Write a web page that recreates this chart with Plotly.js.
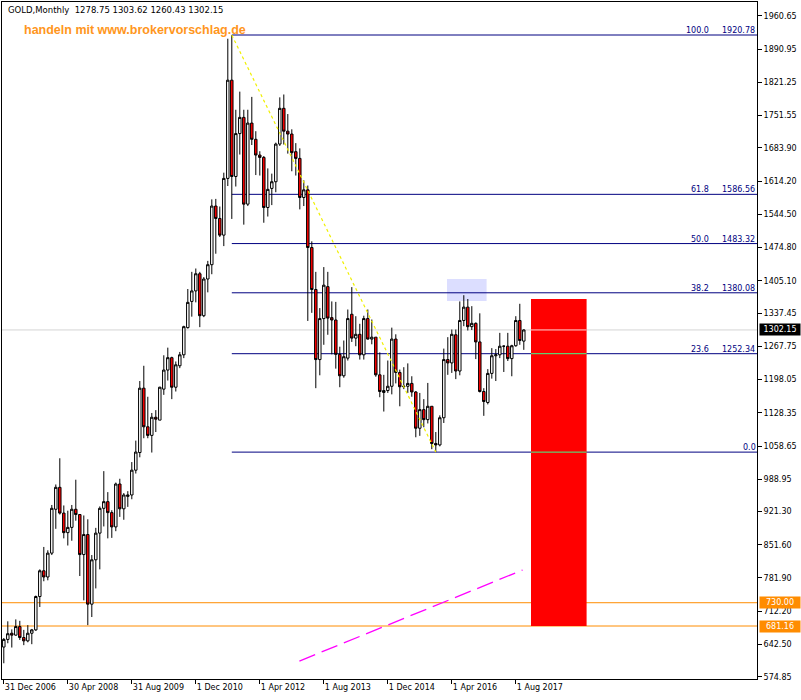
<!DOCTYPE html>
<html>
<head>
<meta charset="utf-8">
<script src="https://cdn.plot.ly/plotly-3.0.1.min.js"></script>
<style>html,body{margin:0;padding:0;background:#fff;}#chart{width:801px;height:700px;}</style>
</head>
<body>
<div id="chart"></div>
<script>
// ---- Data (monthly bars, index 0 = bar labelled "31 Dec 2006") ----
var barOpen = [637,653,666,662,680,657,650,666,673,743,797,784,
  834,926,972,918,877,888,926,915,831,873,727,820,
  876,928,942,919,889,979,927,953,956,1008,1045,1180,
  1099,1081,1119,1113,1178,1218,1244,1182,1227,1250,1307,1362,1384,
  1420,1332,1409,1439,1562,1536,1501,1620,1826,1624,1714,1748,
  1566,1736,1702,1669,1664,1559,1599,1613,1692,1767,1719,1713,
  1676,1662,1580,1596,1475,1387,1240,1326,1393,1328,1323,1251,
  1206,1243,1335,1285,1293,1250,1326,1283,1287,1208,1171,1175,
  1184,1283,1213,1183,1184,1190,1172,1096,1135,1114,1142,1064,
  1061,1118,1240,1233,1292,1216,1322,1350,1309,1316,1277,1173,
  1150,1211,1248,1250,1268,1268,1242,1269,1322,1278.75];
var barHigh = [656,691,674,695,692,673,683,675,745,800,847,840,
  935,978,1033,934,923,935,988,916,913,905,830,887,
  932,1006,962,924,982,990,960,964,1025,1070,1195,1227,
  1162,1128,1134,1183,1249,1265,1246,1236,1256,1311,1388,1424,1431,
  1424,1413,1447,1576,1577,1561,1632,1913,1920.78,1764,1802,1764,
  1764,1791,1719,1677,1667,1641,1630,1695,1790,1796,1755,1723,
  1694,1683,1616,1605,1488,1424,1348,1434,1424,1362,1361,1267,
  1280,1345,1392,1331,1315,1332,1345,1324,1287,1255,1208,1238,
  1307,1293,1219,1224,1232,1205,1174,1170,1157,1191,1142,1088,
  1123,1263,1287,1303,1303,1362,1375,1367,1352,1318,1337,1180,
  1220,1264,1262,1296,1270,1296,1271,1331,1357,1303.62];
var barLow = [603,645,636,661,652,641,647,643,671,721,775,777,
  830,885,915,865,850,860,902,786,735,683,700,760,
  800,890,865,866,880,910,904,931,947,1001,1035,1075,
  1075,1045,1088,1113,1166,1196,1157,1173,1222,1243,1305,1330,1360,
  1308,1329,1381,1419,1462,1497,1478,1604,1535,1603,1670,1523,
  1562,1690,1627,1626,1527,1540,1564,1591,1688,1691,1672,1635,
  1626,1555,1562,1321,1338,1180,1207,1271,1292,1251,1221,1182,
  1202,1238,1277,1268,1240,1240,1282,1272,1204,1161,1131,1170,
  1167,1190,1142,1178,1170,1162,1077,1080,1098,1106,1052,1045.88,
  1058,1107,1208,1212,1199,1207,1310,1301,1302,1241,1171,1122,
  1146,1200,1195,1243,1214,1237,1205,1267,1271,1260.43];
var barClose = [653,665,662,680,657,650,666,673,743,797,784,834,
  928,972,918,877,888,926,915,831,873,727,820,876,
  928,942,919,889,979,927,956,956,1008,1046,1180,1099,
  1081,1119,1115,1182,1218,1244,1182,1229,1250,1309,1360,1384,1420,
  1332,1409,1439,1562,1536,1501,1620,1826,1624,1714,1748,1566,
  1736,1702,1669,1664,1559,1597,1613,1692,1767,1719,1713,1674,
  1662,1580,1596,1475,1387,1240,1326,1396,1327,1323,1251,1206,
  1246,1326,1285,1293,1250,1326,1283,1287,1208,1173,1175,1184,
  1283,1213,1183,1184,1190,1172,1096,1135,1114,1142,1064,1061,
  1118,1240,1233,1293,1216,1322,1350,1309,1316,1277,1173,1152,
  1211,1248,1250,1268,1268,1242,1269,1322,1280,1302.15];

var tickIdx = [0,16,32,48,64,80,96,112,128];
var tickText = ['31 Dec 2006','30 Apr 2008','31 Aug 2009','1 Dec 2010','1 Apr 2012','1 Aug 2013','1 Dec 2014','1 Apr 2016','1 Aug 2017'];
var priceTicks = [1960.65,1890.95,1821.25,1751.55,1683.90,1614.20,1544.50,1474.80,1405.10,1337.45,1267.75,1198.05,1128.35,1058.65,988.95,921.30,851.60,781.90,712.20,642.50,574.85];

// Fibonacci retracement
var fibLevels = ['100.0','61.8','50.0','38.2','23.6','0.0'];
var fibPrices = [1920.78,1586.56,1483.32,1380.08,1252.34,1045.88];
var fibPriceText = ['1920.78','1586.56','1483.32','1380.08','1252.34',''];
var fibStartIdx = 57;

// Other chart objects
var trendYellowX = [57,108], trendYellowY = [1920.78,1045.88];
var trendMagentaX = [73.9,129.7], trendMagentaY = [607.7,798.6];
var hLinePrices = [730.00,681.16];
var currentPrice = 1302.15;
var blueBoxX = [110.8,120.7], blueBoxY = [1363,1409];
var redBoxX = [131.8,145.7], redBoxY = [681.16,1367];

// ---- Layout helpers (pixel -> paper) ----
var L = 2, R = 757, T = 2, B = 679;
function px(x){return (x-L)/(R-L);}
function py(y){return 1-(y-T)/(B-T);}
var FONT = 'DejaVu Sans';
var NAVY = '#000080', ORANGE = '#ff8c00';

var idx = barOpen.map(function(_,i){return i;});

var trace = {
  type:'candlestick', x: idx, open: barOpen, high: barHigh, low: barLow, close: barClose,
  increasing:{line:{color:'#000000',width:1}, fillcolor:'#ffffff'},
  decreasing:{line:{color:'#000000',width:1}, fillcolor:'#ff0000'},
  whiskerwidth:0, hoverinfo:'skip', showlegend:false
};

var shapes = [];
shapes.push({type:'rect',xref:'x',yref:'y',x0:blueBoxX[0],x1:blueBoxX[1],y0:blueBoxY[0],y1:blueBoxY[1],fillcolor:'#dcdeff',line:{width:0},layer:'below'});
shapes.push({type:'line',xref:'paper',yref:'y',x0:0,x1:1,y0:currentPrice,y1:currentPrice,line:{color:'#d4d4d4',width:1},layer:'below'});
fibPrices.forEach(function(p){
  shapes.push({type:'line',xref:'x',yref:'y',x0:fibStartIdx,x1:188.3,y0:p,y1:p,line:{color:NAVY,width:1},layer:'below'});
});
shapes.push({type:'rect',xref:'x',yref:'y',x0:redBoxX[0],x1:redBoxX[1],y0:redBoxY[0],y1:redBoxY[1],fillcolor:'#ff0000',line:{width:0},layer:'below'});
fibPrices.forEach(function(p){
  if(p>redBoxY[0] && p<redBoxY[1]){
    shapes.push({type:'line',xref:'x',yref:'y',x0:redBoxX[0],x1:redBoxX[1],y0:p,y1:p,line:{color:'#3cff8c',width:1},layer:'below'});
  }
});
shapes.push({type:'line',xref:'x',yref:'y',x0:redBoxX[0],x1:redBoxX[1],y0:currentPrice,y1:currentPrice,line:{color:'#ffd8d8',width:1},layer:'below'});
hLinePrices.forEach(function(p){
  shapes.push({type:'line',xref:'paper',yref:'y',x0:0,x1:1,y0:p,y1:p,line:{color:ORANGE,width:1},layer:'below'});
});
shapes.push({type:'line',xref:'x',yref:'y',x0:trendYellowX[0],x1:trendYellowX[1],y0:trendYellowY[0],y1:trendYellowY[1],line:{color:'#f0f000',width:1.2,dash:'3px,3px'},layer:'above'});
shapes.push({type:'line',xref:'x',yref:'y',x0:trendMagentaX[0],x1:trendMagentaX[1],y0:trendMagentaY[0],y1:trendMagentaY[1],line:{color:'#ff00ff',width:1.3,dash:'17px,7px'},layer:'above'});

var ann = [];
ann.push({xref:'paper',yref:'paper',x:px(6),y:py(10),xanchor:'left',yanchor:'middle',showarrow:false,
  text:'GOLD,Monthly  '+[barOpen,barHigh,barLow,barClose].map(function(a){return a[a.length-1].toFixed(2);}).join(' '),
  font:{family:FONT,size:8.5,color:'#000'}});
ann.push({xref:'paper',yref:'paper',x:px(22),y:py(30),xanchor:'left',yanchor:'middle',showarrow:false,
  text:'<b>handeln mit www.brokervorschlag.de</b>',font:{family:'Liberation Sans',size:12.5,color:'#ff9620'}});
fibPrices.forEach(function(p,i){
  if(fibPriceText[i]){
    ann.push({xref:'paper',yref:'y',x:px(710),y:p,xanchor:'right',yanchor:'bottom',showarrow:false,borderpad:0,yshift:-1,
      text:fibLevels[i],font:{family:FONT,size:8,color:NAVY}});
    ann.push({xref:'paper',yref:'y',x:px(756),y:p,xanchor:'right',yanchor:'bottom',showarrow:false,borderpad:0,yshift:-1,
      text:fibPriceText[i],font:{family:FONT,size:8,color:NAVY}});
  } else {
    ann.push({xref:'paper',yref:'y',x:px(757),y:p,xanchor:'right',yanchor:'bottom',showarrow:false,borderpad:0,yshift:-1,
      text:fibLevels[i],font:{family:FONT,size:8,color:NAVY}});
  }
});
function axisTag(p,bg){
  ann.push({xref:'paper',yref:'y',x:px(759),y:p,xanchor:'left',yanchor:'middle',showarrow:false,
    text:p.toFixed(2),bgcolor:bg,borderpad:1,width:38,align:'center',font:{family:FONT,size:8,color:'#ffffff'}});
}
axisTag(currentPrice,'#000000');
hLinePrices.forEach(function(p){axisTag(p,ORANGE);});

var layout = {
  width:801, height:700,
  margin:{l:L,r:801-R,t:T,b:700-B,pad:0},
  paper_bgcolor:'#ffffff', plot_bgcolor:'#ffffff',
  showlegend:false, hovermode:false, dragmode:false, boxgap:0.12,
  xaxis:{range:[-0.45,188.3],type:'linear',tickmode:'array',tickvals:tickIdx,ticktext:tickText,
    ticks:'outside',ticklen:4,tickcolor:'#000',ticklabelposition:'outside right',
    showgrid:false,zeroline:false,showline:true,mirror:true,linecolor:'#000',linewidth:1,
    rangeslider:{visible:false},tickfont:{family:FONT,size:8,color:'#000'},fixedrange:true},
  yaxis:{range:[570.0,1990.0],side:'right',tickmode:'array',tickvals:priceTicks,
    ticktext:priceTicks.map(function(v){return v.toFixed(2);}),
    ticks:'outside',ticklen:4,tickcolor:'#000',
    showgrid:false,zeroline:false,showline:true,mirror:true,linecolor:'#000',linewidth:1,
    tickfont:{family:FONT,size:8,color:'#000'},fixedrange:true},
  shapes:shapes, annotations:ann
};
Plotly.newPlot('chart',[trace],layout,{displayModeBar:false,staticPlot:true});
</script>
</body>
</html>
